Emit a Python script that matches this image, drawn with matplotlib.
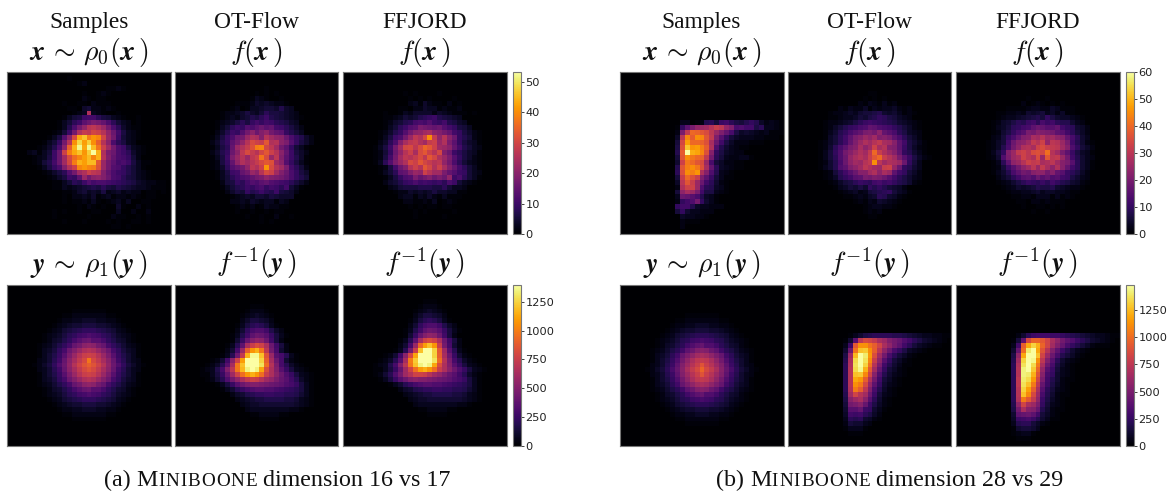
import matplotlib
matplotlib.use('Agg')
import matplotlib.pyplot as plt
import numpy as np

plt.rcParams['mathtext.fontset'] = 'cm'
plt.rcParams['font.family'] = ['Liberation Serif', 'DejaVu Sans']

# Cell values. Each row is (first non-empty column, cells),
# one character per cell in base 62 (0-9, a-z = 10-35, A-Z = 36-61).
# Top row panels are in counts, bottom row panels in units of 25.
DIGITS = '0123456789abcdefghijklmnopqrstuvwxyzABCDEFGHIJKLMNOPQRSTUVWXYZ'
BOTTOM_UNIT = 25

samples_x_a = [
    (0, ''), (12, '1'), (14, '12'), (20, '1121'), (15, '100121'), (15, '21011'),
    (11, '1001102111'), (12, '110452212100'), (13, '123p3210010'),
    (11, '1356abb865321001'), (10, '1358aegihfc85320100'), (10, '137chlqrpmhc84211'),
    (9, '125ahpsrutqlgb632100'), (8, '136dkvHKCFDumha5321'), (7, '1359hqEMGLEyqkc8632'),
    (6, '1247ckyIQHQJBtnhca6321'), (4, '23135agtCHKFLRIpigca8421'), (5, '1236agnvADGJDIqjfcb952'),
    (5, '1257bgnuCIGJJxmhebca6311'), (6, '1369cjptDFDCwmhdc97531'), (7, '12468dhnptrqjfca975321'),
    (8, '1246a9emhkljgcb865321'), (9, '113587adbccba98764322110'), (9, '11323456768657654332111'),
    (11, '1124534362342322011010'), (11, '102232412312212101100'), (11, '1011213101231300110'),
    (14, '102101004100201'), (9, '10100100110003002002'), (9, '1000000100002110010100'),
    (11, '100010000101001101'), (21, '11010'), (0, ''),
]
otflow_x_a = [
    (0, ''), (0, ''), (0, ''), (18, '1'), (16, '10101'), (15, '1321001'),
    (12, '11124343221'), (11, '1201334554743'), (9, '1223464358665432'),
    (9, '123245768a7654321'), (8, '12346869b9ba87643'), (8, '1358a9dcegefba8642'),
    (8, '247a9dhkgjlhfe9753'), (7, '1369cghmpojqnlkgc9742'), (7, '2479ehlqvtsxpqkid9642'),
    (7, '1368fmpswCDurnhe9531'), (7, '2479gkrvsquxtqkfa642'), (7, '136aimqmrtBvmrjea741'),
    (7, '1269flpnqsvxwnkd9631'), (7, '1248dfhlrptFvqnib852'), (8, '136abfhmkqvtnjgc964'),
    (8, '1358acdfhiljihfc975'), (9, '25698bdcefdcba8642'), (9, '13578a9bc9ba8b531'),
    (10, '2465978a87a6542'), (11, '1234355465444'), (11, '223243233132'),
    (12, '12120132211'), (12, '100100101100'), (14, '1001002001'), (17, '101'), (0, ''), (0, ''),
]
ffjord_x_a = [
    (0, ''), (0, ''), (0, ''), (0, ''), (12, '101000010'), (13, '10101000010'),
    (13, '23142110201'), (11, '1102243312112'), (8, '1001324444243211101'),
    (8, '1123545789a76543'), (8, '124578bcbda9b7643'), (8, '1358adeihgfgdb9653'),
    (7, '12479dhklnokjhfb96421'), (7, '136achmrpuEslqkg97521'), (7, '248cjorspnstmpie96431'),
    (6, '136ahnuvrvzxtnmkfb7532'), (6, '1259glqtovxtqujga86431'), (6, '126bhnrqsvrxupmid96421'),
    (6, '138dimpvtxusqrlhc85321'), (7, '126bgjqtqxuptojfb8531'), (7, '1358efjmltqnnifda9532'),
    (8, '1369cdifhjgiglac8531'), (8, '24579acaba9a8ca5321'), (9, '2356667776685332'),
    (10, '12243434644331100'), (11, '23313242131110'), (12, '22112130121'),
    (13, '10101101100'), (14, '1010000010'), (14, '100000100'), (0, ''), (0, ''), (0, ''),
]
samples_y_a = [
    (0, ''), (0, ''), (0, ''), (0, ''), (0, ''), (13, '1111111'), (11, '11222222211'),
    (10, '1223344433221'), (9, '123455666554321'), (8, '12356789998765321'),
    (7, '1234689bcdcb9864321'), (7, '124579cegheec975421'), (6, '123579cgilmligc975321'),
    (6, '13469chknqrqnkhc96431'), (6, '1357aejnruvurnjea7531'), (6, '2358bglptwDwtplgb8532'),
    (5, '12469dhmrvyAyvrmhd96421'), (6, '2358bglptwywtplgb8532'), (6, '1357aejnruvurnjea7531'),
    (6, '13469chknqrqnkhc96431'), (6, '123579cgilmligc975321'), (7, '124579cegheec975421'),
    (7, '1234689bcdcb9864321'), (8, '12356789998765321'), (9, '123455666554321'),
    (10, '1223344433221'), (11, '11222222211'), (13, '1111111'),
    (0, ''), (0, ''), (0, ''), (0, ''), (0, ''),
]
otflow_y_a = [
    (0, ''), (0, ''), (0, ''), (0, ''), (15, '111'), (14, '12221'), (13, '1234321'),
    (13, '2466542'), (12, '136898631'), (12, '259cddb742'), (11, '137bfhgea631'),
    (11, '15agkmlhb62'), (10, '138fpuxvqhb62'), (10, '25cnAHKDsic52'), (9, '138htKTTMynec831'),
    (7, '125blvIVXVOAphc521'), (6, '1248epDMXXXQCrjc8421'), (5, '1237cksDLSXSJxqkea6321'),
    (5, '1136agovCHKHCuqlhda6321'), (6, '1258dimqtvuromjgeb8421'), (8, '136aehjkkjihgfdca631'),
    (9, '1358acdeeddcba98631'), (11, '2457899aa99887531'), (12, '2345667777665321'),
    (13, '234455555554321'), (14, '233333333221'), (15, '11222211'), (17, '1111'),
    (0, ''), (0, ''), (0, ''), (0, ''), (0, ''),
]
ffjord_y_a = [
    (0, ''), (0, ''), (0, ''), (16, '111'), (15, '12221'), (14, '1234321'), (14, '2466542'),
    (13, '136898631'), (13, '259cddb742'), (12, '137bfhgea631'), (12, '15agkmlhb62'),
    (11, '138fpvxvqhb62'), (11, '25cnBIMHuic52'), (10, '138iuMVWOzoe831'), (8, '125blwJWYXOApha521'),
    (7, '1248epENYYXQCrjc8421'), (6, '1237cksDMSYSJxqkea6321'), (6, '1136agovCIKHCuqlhda6321'),
    (6, '1258diorvvuromjgeb8421'), (7, '136aehklkkjihgfdca631'), (9, '1358acdeeddcba98631'),
    (11, '2457899aa99887531'), (12, '2345667777665321'), (13, '234455555554321'),
    (14, '233333333221'), (15, '11222211'), (17, '1111'), (0, ''),
    (0, ''), (0, ''), (0, ''), (0, ''), (0, ''),
]

samples_x_b = [
    (0, ''), (0, ''), (0, ''), (0, ''), (0, ''), (0, ''), (0, ''), (0, ''), (0, ''), (0, ''),
    (12, '33012896bc9768a842321'), (11, '1agkopqtwuoldecc793321'), (11, '2kvEDBzuplhd7454323111'),
    (11, '4uICJIBvlfa6433322111'), (11, '6yLEEDAric74222111'), (11, '7AQKLHCse853211'),
    (11, '8CYNMIAma74322'), (11, '6BJGEDvj96322331'), (11, '5xGEBzpd642211'), (11, '8BHJGArh943211'),
    (11, '9AJHKsme8321'), (11, '6wEAwlgb6311'), (11, '4uBwpic9521'), (11, '2sxxpe98431'),
    (11, '6nrpkc77321'), (11, '3ihfd84310'), (11, '2aceja531'), (11, 'acc8433222'),
    (11, '6a533222'), (12, '433221'), (12, '21110'), (12, '2'), (0, ''),
]
otflow_x_b = [
    (0, ''), (0, ''), (0, ''), (0, ''), (16, '11'), (15, '101010'), (14, '21321312'),
    (10, '213224132334212'), (8, '122343566785453121'), (8, '1123346578a976432'),
    (7, '12234579bcba98754321'), (7, '12468abdehgedca86421'), (7, '1358adfhkljnhfd97432'),
    (7, '1469cgkmpnqlmkgd9642'), (6, '12469chlpsqtvrqmgc7531'), (6, '1259dgkmrnqxrtmlgb7421'),
    (6, '136aejmpsqvEwspmha8531'), (6, '1369eiortrwBEwtqkfb7421'), (6, '1258dinqptvJuqsrpia63'),
    (6, '1358eglnqusqpwxoia853'), (7, '1269cfimmqsnrpgca642'), (7, '1248acfgkjlkifc97532'),
    (8, '124679ba9cdbca87521'), (9, '1346575a8a86542'), (10, '1234236789a6431'),
    (11, '1123245985421'), (13, '1213254321'), (15, '12332210'), (15, '12120'), (16, '11'),
    (0, ''), (0, ''), (0, ''),
]
ffjord_x_b = [
    (0, ''), (0, ''), (0, ''), (0, ''), (0, ''), (14, '10001'), (13, '201210101'),
    (10, '11112332243111'), (8, '1122325456342411'), (8, '1233456786a7544321'),
    (7, '1245798bc9dbc988532'), (7, '13469acdgihffhca9542'), (7, '1257adfkjmlkjgfc9642'),
    (7, '236adhlmrqtpqnmhd953'), (6, '1246cimnqvtxoutpkc8521'), (6, '1248djnstrxzwvuqmea642'),
    (6, '136alpvxuzAyFtqkgb7431'), (6, '125ekprxuszpBuvpjc8532'), (7, '139gnptxvwrsuqmkf9531'),
    (7, '126bfjnqupvrnsmhc9531'), (7, '1358dgjimnnjmhfb9742'), (8, '2469cfgeifhefcb7532'),
    (8, '123579ba9b9ca875421'), (9, '12354568778543221'), (10, '122334534433211'),
    (11, '1122133313121'), (12, '1102212111'), (13, '100110101'),
    (15, '100100'), (0, ''), (0, ''), (0, ''), (0, ''),
]
samples_y_b = [
    (0, ''), (0, ''), (0, ''), (0, ''), (0, ''), (0, ''), (13, '1111111'), (11, '11222222211'),
    (10, '1223344433221'), (9, '123455666554321'), (8, '12356789998765321'),
    (7, '1234689bcdcb9864321'), (7, '124579cegheec975421'), (6, '123579cgilmligc975321'),
    (6, '13469chknqrqnkhc96431'), (6, '1357aejnruvurnjea7531'), (6, '2358bglptwAwtplgb8532'),
    (5, '12469dhmrvyDyvrmhd96421'), (6, '2358bglptwAwtplgb8532'), (6, '1357aejnruvurnjea7531'),
    (6, '13469chknqrqnkhc96431'), (6, '123579cgilmligc975321'), (7, '124579cegheec975421'),
    (7, '1234689bcdcb9864321'), (8, '12356789998765321'), (9, '123455666554321'),
    (10, '1223344433221'), (11, '11222222211'), (13, '1111111'),
    (0, ''), (0, ''), (0, ''), (0, ''),
]
otflow_y_b = [
    (0, ''), (0, ''), (0, ''), (0, ''), (0, ''), (0, ''), (0, ''), (0, ''), (0, ''), (0, ''),
    (12, '135789999887654332211'), (11, '15fuyxvrpljhec9754321'), (11, '3bBJJFCxrnjgc9643211'),
    (11, '5iFPQJCunida74321'), (11, '7pOXUKzqjd96421'), (11, '8rSXTIwnfa6421'),
    (11, '9sTXRFtkc85311'), (11, '9tSWNBqha6421'), (11, '9tPQIxme85321'), (11, '9tMKCsjc6421'),
    (11, '9tJGyoga5321'), (11, '9sGCuld8421'), (11, '8qxtqib6321'), (11, '7mprmf9521'),
    (11, '6jkmhb7421'), (11, '5ffhba531'), (11, '4cbc9742'), (11, '39895421'), (11, '265532'),
    (11, '13331'), (12, '111'), (0, ''), (0, ''),
]
ffjord_y_b = [
    (0, ''), (0, ''), (0, ''), (0, ''), (0, ''), (0, ''), (0, ''), (0, ''), (0, ''), (0, ''),
    (12, '259bcccbba98765433211'), (11, '16gyDDBxrnjgeb9754321'), (11, '3cCMRNDxqlhda8642111'),
    (11, '5hEUXMAtlgb85321'), (11, '7nMXXPxpid86421'), (11, '8qRXWJulf95321'), (11, '9sTYSGrid7421'),
    (11, '9tVXQDofb6321'), (11, '9tVUNAmda5321'), (11, '9uUSKxkc85211'), (11, '9uTPGuhb7421'),
    (11, '9tRLCrf96321'), (11, '9tPIypd85211'), (11, '9sGBvnb7421'), (11, '8nxrpka6321'),
    (11, '7jrmlh85211'), (11, '5ghigc6421'), (11, '4bcdb85311'), (11, '38996421'),
    (11, '156653'), (11, '12331'), (12, '111'), (0, ''),
]

vmax_top_a, vmax_bottom_a = 53.3, 1400
vmax_top_b, vmax_bottom_b = 60, 1486
ticks_top_a = [0, 10, 20, 30, 40, 50]
ticks_top_b = [0, 10, 20, 30, 40, 50, 60]
ticks_bottom = [0, 250, 500, 750, 1000, 1250]
column_names = ['Samples', 'OT-Flow', 'FFJORD']
top_math = [r'$\boldsymbol{x}\,\sim\,\rho_0(\boldsymbol{x}\,)$', r'$f(\boldsymbol{x}\,)$', r'$f(\boldsymbol{x}\,)$']
bottom_math = [r'$\boldsymbol{y}\,\sim\,\rho_1(\boldsymbol{y}\,)$', r'$f^{-1}(\boldsymbol{y}\,)$', r'$f^{-1}(\boldsymbol{y}\,)$']

W, H = 1171, 493
EDGE = '#777777'


def decode(rows, scale=1):
    out = np.zeros((33, 33))
    for i, (start, cells) in enumerate(rows):
        for j, c in enumerate(cells):
            if start + j < 33:
                out[i, start + j] = DIGITS.index(c) * scale
    return out


def px_axes(fig, x0, x1, y0, y1):
    ax = fig.add_axes([x0 / W, 1 - y1 / H, (x1 - x0) / W, (y1 - y0) / H])
    return ax


def draw_row(fig, grids, lefts, y0, y1, vmax, scale, cbar_x, ticks):
    for grid, left in zip(grids, lefts):
        ax = px_axes(fig, left, left + 163.5, y0, y1)
        im = ax.imshow(decode(grid, scale), cmap='inferno', vmin=0, vmax=vmax,
                       aspect='auto', interpolation='nearest')
        ax.set_xticks([])
        ax.set_yticks([])
        for s in ax.spines.values():
            s.set_color(EDGE)
            s.set_linewidth(0.8)
    cax = px_axes(fig, cbar_x, cbar_x + 8, y0, y1)
    cb = fig.colorbar(im, cax=cax)
    cb.set_ticks(ticks)
    cb.ax.tick_params(labelsize=8.2, length=2, width=0.6, pad=1.5, colors='#222222', labelfontfamily='DejaVu Sans')
    cb.outline.set_edgecolor(EDGE)
    cb.outline.set_linewidth(0.8)


def caption(fig, renderer, x, y, parts):
    # small caps have to be laid out piece by piece
    for text, size, gap in parts:
        t = fig.text(x / W, 1 - y / H, text, fontsize=size, ha='left', va='baseline', color='#111111')
        x += t.get_window_extent(renderer).width + gap


fig = plt.figure(figsize=(W / 100, H / 100), dpi=100)
lefts_a = [7.3, 175, 343]
lefts_b = [620, 788, 956]

draw_row(fig, [samples_x_a, otflow_x_a, ffjord_x_a], lefts_a, 71.5, 234, vmax_top_a, 1, 512.5, ticks_top_a)
draw_row(fig, [samples_y_a, otflow_y_a, ffjord_y_a], lefts_a, 284.5, 446, vmax_bottom_a, BOTTOM_UNIT, 512.5, ticks_bottom)
draw_row(fig, [samples_x_b, otflow_x_b, ffjord_x_b], lefts_b, 71.5, 234, vmax_top_b, 1, 1125.5, ticks_top_b)
draw_row(fig, [samples_y_b, otflow_y_b, ffjord_y_b], lefts_b, 284.5, 446, vmax_bottom_b, BOTTOM_UNIT, 1125.5, ticks_bottom)

for lefts in (lefts_a, lefts_b):
    for i, left in enumerate(lefts):
        cx = (left + 81.5) / W
        fig.text(cx, 1 - 28 / H, column_names[i], fontsize=16.8, ha='center', va='baseline', color='#111111')
        fig.text(cx, 1 - 60 / H, top_math[i], fontsize=20, ha='center', va='baseline', color='#111111')
        fig.text(cx, 1 - 272 / H, bottom_math[i], fontsize=20, ha='center', va='baseline', color='#111111')

renderer = fig.canvas.get_renderer()
for label, x in (('(a)', 104), ('(b)', 716)):
    dims = '16 vs 17' if label == '(a)' else '28 vs 29'
    small = [(c, 13.8, 1) for c in 'INIBOON'] + [('E', 13.8, 6)]
    caption(fig, renderer, x, 486, [(label, 17.3, 6), ('M', 17.3, 0.5)] + small + [('dimension ' + dims, 17.3, 0)])

plt.savefig('out.png', dpi=100)
